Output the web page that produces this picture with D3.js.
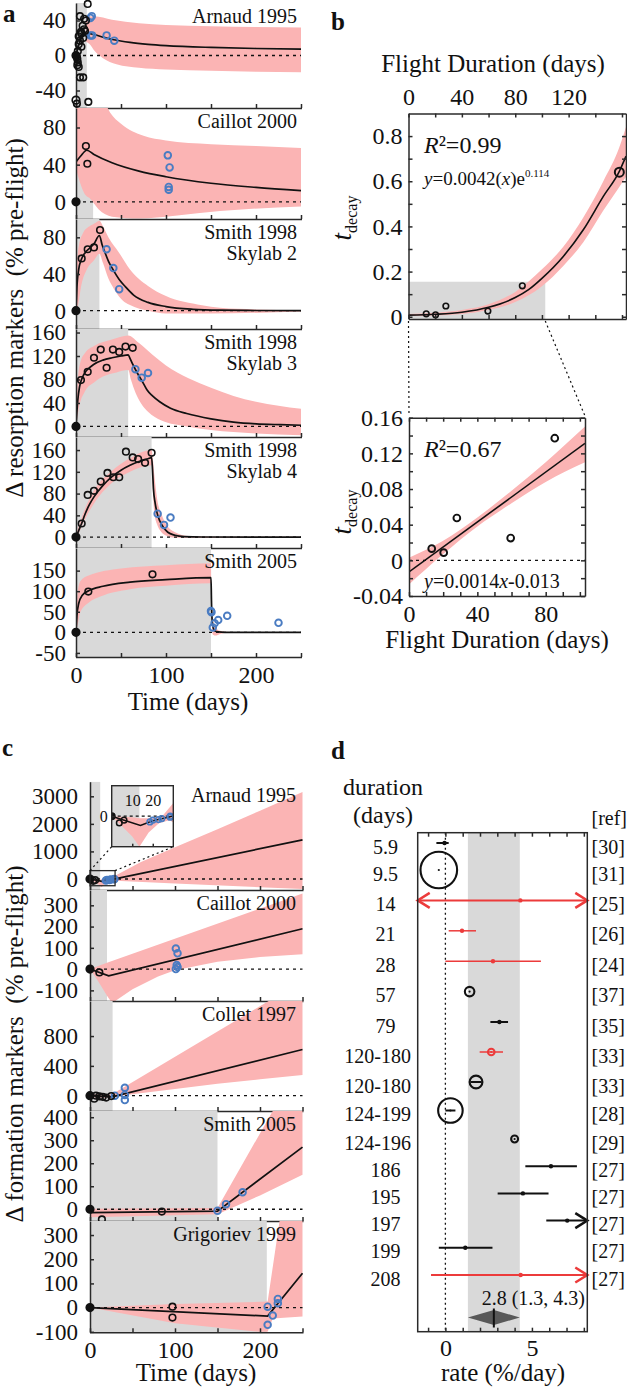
<!DOCTYPE html>
<html><head><meta charset="utf-8">
<script src="https://cdn.jsdelivr.net/npm/d3@7"></script>
<style>
html,body{margin:0;padding:0;background:#fff;}
svg{display:block;font-family:"Liberation Serif","Times New Roman",serif;}
</style></head><body>
<svg id="fig" width="627" height="1389"></svg>
<script>
// ================= DATA =================
// ---- Panel a : resorption markers, [day, % change] ----
const aTitles = [["Arnaud 1995"],["Caillot 2000"],["Smith 1998","Skylab 2"],["Smith 1998","Skylab 3"],["Smith 1998","Skylab 4"],["Smith 2005"]];
const aFlight = [12, 19, 26, 58, 84, 150];
const aYDomain = [[-60,60],[-18.5,101],[-20,100],[-18,166],[-20,184],[-60,205]];
const aYTicks = [[-40,0,40],[0,40,80],[0,40,80],[0,40,80,120,160],[0,40,80,120,160],[-50,0,50,100,150]];
const timeTicks = [0,50,100,150,200,250];

const a1Black = [[0,0],[13,59],[4.4,45],[9,42],[11,40],[7.4,34],[9,30],[10,28],[5.5,27],[6,25],[3,22],[8,20],[4.4,17],[3,13],[6,10],[2,5],[1,-2],[1.5,-4],[2,-8],[1.5,-11],[3,-13],[4.4,-25],[8,-25],[0,-51],[1,-55],[13.7,-53]];
const a1Blue = [[16,43],[17.5,45],[16,23],[18,23],[34,23],[42.5,17]];
const a1Fit = [[0,0],[3,12],[6,20],[9,24],[12,25.5],[20,24],[30,21],[42,18],[60,15],[80,12.8],[100,11.3],[150,9.2],[200,8],[250,7.3]];
const a1Hi = [[11,45],[20,45],[40,41],[70,37],[100,35],[150,33.5],[200,32.5],[250,32]];
const a1Lo = [[11,16],[16,12],[20,6],[30,-3],[45,-10],[70,-14],[100,-16],[150,-17.5],[200,-18.5],[250,-19]];

const a2Black = [[0,0],[11,60],[12.6,41]];
const a2Blue = [[102,50],[104,37],[103,16],[103,13]];
const a2Fit = [[0,43],[5,49],[12,55.5],[20,51],[40,42],[70,33],[100,27],[150,20],[200,15.5],[250,12]];
const a2Hi = [[0,125],[30,110],[38,96],[50,84],[75,71],[100,66],[150,62],[200,60],[250,58]];
const a2Lo = [[0,35],[10,8],[15,4],[25,-8],[40,-16],[70,-18],[110,-15],[160,-10],[250,-5]];

const a3Black = [[0,0],[6.3,57],[13,67],[20,69],[26.7,88]];
const a3Blue = [[34,67],[41.5,46.5],[48,23.4]];
const a3Fit = [[0,0],[1,25],[3,45],[6,56],[10,63],[15,68],[20,73],[26,82],[29,72],[32,64],[36,54],[41,45],[48,34],[55,26],[64,17],[80,9],[100,4.5],[130,1.5],[160,0.5],[200,0.2],[250,0]];
const a3Hi = [[0,0],[1,50],[3,70],[8,85],[15,92],[22,96],[26,98],[30,92],[36,80],[48,63],[60,45],[80,27],[100,16],[140,6],[180,2],[250,0.5]];
const a3Lo = [[0,0],[2,5],[6,28],[12,45],[20,55],[26,62],[30,52],[36,35],[42,24],[50,13],[65,4],[80,0],[100,-3],[150,-3],[250,-1]];

const a4Black = [[0,0],[5.5,79],[13,93],[20,117],[27.5,131],[34,100],[41,131],[48,127],[55,136],[63,134]];
const a4Blue = [[66,97.5],[73,83],[80,91]];
const a4Fit = [[0,0],[2,45],[4,68],[7,83],[10,92],[15,100],[20,106],[30,113],[40,117],[50,120],[58,122],[60,116],[63,106],[66,97],[70,86],[75,73],[79,62],[85,52],[93,42],[105,31],[123,22],[150,13],[175,7.5],[200,4.5],[227,3],[250,2]];
const a4Hi = [[0,0],[2,80],[5,110],[10,125],[20,137],[40,148],[58,155],[70,142],[85,122],[100,104],[125,82],[150,66],[175,52],[200,42],[250,30]];
const a4Lo = [[0,0],[3,30],[10,60],[20,75],[30,85],[45,92],[58,96],[61,80],[66,58],[72,40],[80,25],[95,10],[123,0],[150,-6],[200,-12],[250,-15]];

const a5Black = [[0,0],[6.3,25],[13,77.5],[20,85],[27.5,102],[35,118],[41.5,110],[48,110],[55.5,157],[63,146.5],[69,143.5],[76.7,136.5],[84,155]];
const a5Blue = [[90.7,43],[97.8,22.5],[105,36]];
const a5Fit = [[0,0],[3,12],[6,24],[10,42],[15,60],[20,74],[30,95],[40,111],[50,123],[60,132],[70,139],[80,144],[84,146],[85,125],[86,90],[88,62],[90,45],[93,30],[97,18],[102,9],[110,3.5],[120,1],[140,0.2],[250,0]];
const a5Hi = [[0,5],[10,52],[20,86],[40,122],[60,145],[84,160],[85,150],[87,115],[90,72],[95,42],[100,24],[110,9],[125,2],[150,0.5],[250,0.5]];
const a5Lo = [[0,-5],[10,33],[20,62],[40,100],[60,120],[84,132],[85,100],[87,45],[90,24],[95,9],[100,3],[110,-1],[250,-1]];

const a6Black = [[0,0],[13.7,99],[85,141]];
const a6Blue = [[150,52],[150.5,49],[152,12],[154,22],[158,30],[168,40],[225,23]];
const a6Fit = [[0,0],[1,40],[3,70],[7,90],[14,101],[30,112],[60,122],[100,128],[150,133],[150.5,80],[151,40],[152,15],[154,4],[158,1],[165,0],[250,0]];
const a6Hi = [[0,0],[2,100],[5,125],[14,138],[50,155],[100,163],[150,168],[150.5,100],[152,35],[155,12],[160,4],[170,1],[250,0.5]];
const a6Lo = [[0,0],[2,20],[5,50],[14,72],[27,87],[60,105],[100,113],[150,119],[150.5,40],[152,-5],[155,-8],[160,-4],[170,-1],[250,-0.5]];

// ---- Panel b : decay time vs flight duration ----
const bDuration = [13.3, 20.3, 28, 59.5, 85.3, 158];
const bTdecay = [0.0131, 0.0086, 0.0475, 0.025, 0.137, 0.64];
const bExpFit = [[0,0.007],[20,0.011],[40,0.02],[60,0.042],[80,0.085],[90,0.12],[100,0.17],[116,0.267],[131,0.385],[146,0.533],[158,0.644],[163,0.711]];
const bExpHi = [[0,0.012],[20,0.018],[40,0.03],[60,0.055],[80,0.11],[100,0.21],[116,0.31],[131,0.44],[146,0.6],[158,0.75],[163,0.84]];
const bExpLo = [[0,0.003],[20,0.006],[40,0.012],[60,0.03],[80,0.065],[100,0.135],[116,0.225],[131,0.33],[146,0.47],[158,0.575],[163,0.62]];
const bLinFit = [[0,-0.013],[103,0.1312]];
const bLinHi = [[0,0.003],[20,0.022],[40,0.048],[60,0.078],[80,0.11],[103,0.15]];
const bLinLo = [[0,-0.027],[20,0.007],[40,0.038],[60,0.064],[80,0.088],[103,0.11]];
const bZoomRange = [102.5, 0.155];

// ---- Panel c : formation markers ----
const cTitles = ["Arnaud 1995","Caillot 2000","Collet 1997","Smith 2005","Grigoriev 1999"];
const cFlight = [12, 20, 26.6, 150, 208];
const cYDomain = [[-400,3530],[-150,372],[-205,1270],[-51,427],[-102,358]];
const cYTicks = [[0,1000,2000,3000],[-100,0,100,200,300],[0,400,800],[0,100,200,300,400],[-100,0,100,200,300]];

const c1Black = [[0,0],[3.7,-66],[6,-39]];
const c1Blue = [[18.6,-56],[20,-39],[22.8,-33],[24.4,-23],[28.5,0],[28.5,-10]];
const c1Fit = [[0,0],[14,-90],[20,-45],[28,-8],[250,1420]];
const c1Hi = [[0,0],[5,-5],[10,-10],[13.5,-20],[20,-20],[25,10],[30,130],[60,620],[100,1150],[150,1800],[200,2480],[250,3160]];
const c1Lo = [[0,0],[5,-100],[10,-200],[13.5,-300],[18,-160],[23,-70],[28,-40],[30,-60],[100,-160],[250,-365]];
const c1InsetX = [0,30], c1InsetY = [-300,300], c1InsetFlight = 13.5;

const c2Black = [[0,0],[11,-15.5]];
const c2Blue = [[101,97],[103,74],[102,19],[101,0],[103,10]];
const c2Fit = [[0,0],[22,-32],[250,190]];
const c2Hi = [[0,0],[20,30],[250,355]];
const c2Lo = [[0,0],[10,-60],[20,-125],[26,-160],[50,-95],[80,-35],[100,-5],[150,35],[200,57],[250,70]];

const c3Black = [[0,0],[5,-40],[7,0],[11,-10],[15,-15],[19,-25],[25,-5]];
const c3Blue = [[29.3,0],[41,107],[41,10],[41,-58]];
const c3Fit = [[0,0],[26,-15],[250,620]];
const c3Hi = [[0,20],[26,20],[250,1540]];
const c3Lo = [[0,-20],[26,-30],[40,5],[100,90],[150,160],[200,220],[250,277]];

const c4Black = [[0,0],[14,-44],[84.5,-10]];
const c4Blue = [[150,-6],[160,22],[179.5,74]];
const c4Fit = [[0,-15],[150,-8],[250,270]];
const c4Hi = [[0,2],[150,6],[215,427],[250,650]];
const c4Lo = [[0,-35],[150,-22],[200,60],[250,150]];

const c5Black = [[0,0],[97,4],[97,-41]];
const c5Blue = [[209,4],[209,-71],[215,-33],[221,36],[221,18]];
const c5Fit = [[0,0],[209,-35],[250,142]];
const c5Hi = [[0,0],[100,15],[209,25],[223,358],[250,900]];
const c5Lo = [[0,0],[100,-65],[200,-100],[209,-100],[215,-45],[250,-37]];

// ---- Panel d : formation rate meta-analysis ----
const dDuration = ["5.9","9.5","14","21","28","57","79","120-180","120-180","124-199","124-196","186","195","197","199","208"];
const dRef = ["[30]","[31]","[25]","[26]","[24]","[37]","[35]","[33]","[33]","[28]","[29]","[27]","[27]","[27]","[27]","[27]"];
const dRate = [-0.05,-0.38,4.33,0.96,2.75,1.4,3.12,2.65,1.77,0.29,4.0,6.1,4.48,7.04,1.15,4.35];
const dLow  = [-0.52,-0.38,-9,0.19,0.0,1.4,2.6,1.98,1.45,0.0,4.0,4.62,3.02,5.83,-0.38,-0.83];
const dHigh = [0.19,-0.38,9,1.77,5.52,1.4,3.62,3.33,2.1,0.58,4.0,7.6,5.96,9,2.72,9];
const dGroup = [0,0,1,1,1,0,0,1,0,0,0,0,0,0,0,1];
const dWeight = [0,1,0,0,0,0.26,0,0.18,0.35,0.67,0.19,0,0,0,0,0];
const dPooled = [2.8, 1.3, 4.3];

// ================= DRAWING =================
const FONT = "'Liberation Serif','Times New Roman',serif";
const PINK = "#fbb4b4", GRAY = "#d9d9d9", BLUE = "#4a7cc2", RED = "#ec3b3b", INK = "#111", AX = "#2a2a2a";
const TICK = 23;
const svg = d3.select("#fig");
svg.append("rect").attr("width",627).attr("height",1389).attr("fill","#fff");

function txt(g, x, y, s, o = {}) {
  const t = g.append("text").attr("x", x).attr("y", y).text(s).attr("font-family", FONT)
    .attr("font-size", o.size || TICK).attr("text-anchor", o.anchor || "middle").attr("fill", INK);
  if (o.weight) t.attr("font-weight", o.weight);
  if (o.dy) t.attr("dy", o.dy);
  if (o.italic) t.attr("font-style", "italic");
  return t;
}
function styleAxis(sel, size) {
  sel.attr("font-family", FONT).attr("font-size", size || TICK);
  sel.selectAll("text").attr("fill", INK).attr("font-family", FONT);
  sel.selectAll("text").filter(function () { return this.textContent === ""; }).remove();
  sel.selectAll("path,line").attr("stroke", AX).attr("stroke-width", 1.5);
  return sel;
}
const lineGen = (x, y, c) => d3.line().x(d => x(d[0])).y(d => y(d[1])).curve(c || d3.curveMonotoneX);
function bandPath(x, y, hi, lo, c) {
  const ln = lineGen(x, y, c);
  return ln(hi) + ln(lo.slice().reverse()).replace(/^M/, "L") + "Z";
}
function drawPoints(g, x, y, data, color, r, sw) {
  g.selectAll(null).data(data).enter().append("circle")
    .attr("cx", d => x(d[0])).attr("cy", d => y(d[1])).attr("r", d => d[0] === 0 ? r + 0.5 : r)
    .attr("fill", d => d[0] === 0 && d[1] === 0 ? color : "none")
    .attr("stroke", color).attr("stroke-width", sw);
}
let clipN = 0;
function clipTo(x0, y0, w, h) {
  const id = "clp" + (clipN++);
  svg.append("clipPath").attr("id", id).append("rect").attr("x", x0).attr("y", y0).attr("width", w).attr("height", h);
  return svg.append("g").attr("clip-path", `url(#${id})`);
}

function seriesPanel(o) {
  const x = o.x, [x0, x1] = x.range();
  const y = d3.scaleLinear().domain(o.yDomain).range([o.bottom, o.top]);
  const g = clipTo(x0, o.top, x1 - x0 + 2, o.bottom - o.top);
  g.append("rect").attr("x", x(0)).attr("y", o.top).attr("width", x(o.flight) - x(0)).attr("height", o.bottom - o.top).attr("fill", GRAY);
  g.append("path").attr("d", bandPath(x, y, o.hi, o.lo, o.curve)).attr("fill", PINK);
  g.append("line").attr("x1", x0).attr("x2", x1).attr("y1", y(0)).attr("y2", y(0))
    .attr("stroke", INK).attr("stroke-width", 1.3).attr("stroke-dasharray", "3,4");
  g.append("path").attr("d", lineGen(x, y, o.curve)(o.fit)).attr("fill", "none").attr("stroke", INK).attr("stroke-width", 1.7);
  // axes
  const ay = svg.append("g").attr("transform", `translate(${x0},0)`)
    .call(d3.axisLeft(y).tickValues(o.yTicks).tickSize(-4).tickSizeOuter(0).tickPadding(o.gap).tickFormat(d => String(d)));
  styleAxis(ay);
  const ax = svg.append("g").attr("transform", `translate(0,${o.bottom})`)
    .call(d3.axisBottom(x).tickValues(timeTicks).tickSize(-4).tickSizeOuter(0).tickPadding(9)
      .tickFormat(d => o.labels && d % 100 === 0 ? String(d) : ""));
  styleAxis(ax, 24);
  ax.select(".domain").attr("d", `M${x0},0.5H${x1 + 1}`);
  // points
  const pg = svg.append("g");
  drawPoints(pg, x, y, o.blue, BLUE, 3.3, 1.9);
  drawPoints(pg, x, y, o.black, INK, 3.3, 1.6);
  // title
  o.title.forEach((s, i) => txt(svg, o.titleX, o.top + 20 + i * 21, s, { anchor: "end", size: 20 }));
  return y;
}

// ---------- Panel a ----------
const xA = d3.scaleLinear().domain([0, 250]).range([76, 301]);
const aTop = [3, 108, 219, 329, 437, 548, 657];
const aSeries = [
  [a1Black, a1Blue, a1Fit, a1Hi, a1Lo], [a2Black, a2Blue, a2Fit, a2Hi, a2Lo], [a3Black, a3Blue, a3Fit, a3Hi, a3Lo],
  [a4Black, a4Blue, a4Fit, a4Hi, a4Lo], [a5Black, a5Blue, a5Fit, a5Hi, a5Lo], [a6Black, a6Blue, a6Fit, a6Hi, a6Lo]];
aSeries.forEach((s, i) => seriesPanel({
  x: xA, top: aTop[i], bottom: aTop[i + 1], yDomain: aYDomain[i], yTicks: aYTicks[i], flight: aFlight[i],
  black: s[0], blue: s[1], fit: s[2], hi: s[3], lo: s[4], title: aTitles[i], titleX: 297, gap: 10, labels: i === 5
}));
txt(svg, 188, 710, "Time (days)", { size: 25 });
txt(svg, 0, 0, "Δ resorption markers  (% pre-flight)", { size: 25 })
  .attr("transform", "translate(23,318) rotate(-90)").style("white-space", "pre");
txt(svg, 3, 22, "a", { anchor: "start", size: 25, weight: "bold" });

// ---------- Panel c ----------
const xC = d3.scaleLinear().domain([0, 250]).range([90, 302.5]);
const cTop = [781.7, 890, 1001, 1111, 1221, 1332.3];
const cSeries = [[c1Black, c1Blue, c1Fit, c1Hi, c1Lo], [c2Black, c2Blue, c2Fit, c2Hi, c2Lo], [c3Black, c3Blue, c3Fit, c3Hi, c3Lo],
  [c4Black, c4Blue, c4Fit, c4Hi, c4Lo], [c5Black, c5Blue, c5Fit, c5Hi, c5Lo]];
const cY = cSeries.map((s, i) => seriesPanel({
  x: xC, top: cTop[i], bottom: cTop[i + 1], yDomain: cYDomain[i], yTicks: cYTicks[i], flight: cFlight[i],
  black: s[0], blue: s[1], fit: s[2], hi: s[3], lo: s[4], title: [cTitles[i]], titleX: 296, gap: 12, labels: i === 4,
  curve: d3.curveLinear
}));
txt(svg, 196, 1381, "Time (days)", { size: 25 });
txt(svg, 0, 0, "Δ formation markers  (% pre-flight)", { size: 25 })
  .attr("transform", "translate(23,1044) rotate(-90)").style("white-space", "pre");
txt(svg, 2, 756, "c", { anchor: "start", size: 25, weight: "bold" });

// inset for Arnaud 1995 (panel c)
{
  const yMain = cY[0];
  const xIn = d3.scaleLinear().domain(c1InsetX).range([111.7, 173.3]);
  const yIn = d3.scaleLinear().domain(c1InsetY).range([846.7, 785.7]);
  const rx0 = xC(c1InsetX[0]), rx1 = xC(29.5), ry0 = yMain(303), ry1 = yMain(-245);
  svg.append("rect").attr("x", rx0).attr("y", ry0).attr("width", rx1 - rx0).attr("height", ry1 - ry0)
    .attr("fill", "none").attr("stroke", AX).attr("stroke-width", 1.3);
  const dl = svg.append("g").attr("stroke", INK).attr("stroke-width", 1.2).attr("stroke-dasharray", "2,3");
  dl.append("line").attr("x1", rx0).attr("y1", ry0).attr("x2", xIn.range()[0]).attr("y2", yIn.range()[0]);
  dl.append("line").attr("x1", rx1).attr("y1", ry0).attr("x2", xIn.range()[1]).attr("y2", yIn.range()[0]);
  svg.append("rect").attr("x", 111.7).attr("y", 785.7).attr("width", 61.6).attr("height", 61).attr("fill", "#fff");
  const g = clipTo(111.7, 785.7, 61.6, 61);
  g.append("rect").attr("x", xIn(0)).attr("y", 785.7).attr("width", xIn(c1InsetFlight) - xIn(0)).attr("height", 61).attr("fill", GRAY);
  g.append("path").attr("d", bandPath(xIn, yIn, c1Hi, c1Lo, d3.curveLinear)).attr("fill", PINK);
  g.append("line").attr("x1", 111.7).attr("x2", 173.3).attr("y1", yIn(0)).attr("y2", yIn(0))
    .attr("stroke", INK).attr("stroke-width", 1.2).attr("stroke-dasharray", "3,3");
  g.append("path").attr("d", lineGen(xIn, yIn, d3.curveLinear)(c1Fit)).attr("fill", "none").attr("stroke", INK).attr("stroke-width", 1.5);
  drawPoints(g, xIn, yIn, c1Blue, BLUE, 2.8, 1.6);
  drawPoints(g, xIn, yIn, c1Black, INK, 2.8, 1.5);
  const top = svg.append("g").attr("transform", "translate(0,785.7)")
    .call(d3.axisBottom(xIn).tickValues([10, 20]).tickSize(0).tickPadding(9));
  styleAxis(top, 16); top.select(".domain").remove();
  const bot = svg.append("g").attr("transform", "translate(0,846.7)")
    .call(d3.axisBottom(xIn).tickValues([10, 20]).tickSize(-3).tickFormat(""));
  styleAxis(bot); bot.select(".domain").remove();
  const lft = svg.append("g").attr("transform", "translate(111.7,0)")
    .call(d3.axisLeft(yIn).tickValues([0]).tickSize(-3).tickPadding(4));
  styleAxis(lft, 16); lft.select(".domain").remove();
  svg.append("rect").attr("x", 111.7).attr("y", 785.7).attr("width", 61.6).attr("height", 61)
    .attr("fill", "none").attr("stroke", AX).attr("stroke-width", 1.4);
}

// ---------- Panel b ----------
function boxAxes(x, y, xt, yt, fmtX, fmtY, topLabels) {
  const [x0, x1] = x.range(), [y0, y1] = y.range();
  const mk = (axis, tr) => styleAxis(svg.append("g").attr("transform", tr).call(axis), 24);
  mk(d3.axisLeft(y).tickValues(yt).tickSize(-4).tickSizeOuter(0).tickPadding(6).tickFormat(fmtY), `translate(${x0},0)`);
  mk(d3.axisRight(y).tickValues(yt).tickSize(-4).tickSizeOuter(0).tickFormat(""), `translate(${x1},0)`);
  mk(d3.axisBottom(x).tickValues(xt).tickSize(-4).tickSizeOuter(0).tickPadding(9).tickFormat(topLabels ? "" : fmtX), `translate(0,${y0})`);
  mk(d3.axisTop(x).tickValues(xt).tickSize(-4).tickSizeOuter(0).tickPadding(9).tickFormat(topLabels ? fmtX : ""), `translate(0,${y1})`);
}
const fmt2 = d => String(+(+d).toFixed(2));
// upper b
{
  const x = d3.scaleLinear().domain([0, 163]).range([408.5, 626]);
  const y = d3.scaleLinear().domain([-0.01, 0.9]).range([319, 113.5]);
  const g = clipTo(408.5, 113.5, 217.5, 205.5);
  g.append("rect").attr("x", x(0)).attr("y", y(bZoomRange[1])).attr("width", x(bZoomRange[0]) - x(0))
    .attr("height", y(-0.01) - y(bZoomRange[1])).attr("fill", GRAY);
  g.append("path").attr("d", bandPath(x, y, bExpHi, bExpLo)).attr("fill", PINK);
  g.append("path").attr("d", lineGen(x, y)(bExpFit)).attr("fill", "none").attr("stroke", INK).attr("stroke-width", 1.6);
  const pts = bDuration.map((d, i) => [d, bTdecay[i]]);
  svg.selectAll(null).data(pts).enter().append("circle")
    .attr("cx", d => x(d[0])).attr("cy", d => y(d[1])).attr("r", d => d[0] > 150 ? 4.5 : 2.8)
    .attr("fill", "none").attr("stroke", INK).attr("stroke-width", d => d[0] > 150 ? 2 : 1.6);
  boxAxes(x, y, d3.range(0, 161, 20), d3.range(0, 0.81, 0.1),
    d => d % 40 === 0 && d <= 120 ? String(d) : "", d => Math.round(d * 10) % 2 === 0 ? fmt2(d) : "", true);
  txt(svg, 493, 72, "Flight Duration (days)", { size: 25 });
  const r = txt(svg, 424, 153, "", { anchor: "start", size: 24 });
  r.append("tspan").attr("font-style", "italic").text("R");
  r.append("tspan").text("²=0.99");
  const e = txt(svg, 424, 185, "", { anchor: "start", size: 19 });
  e.append("tspan").attr("font-style", "italic").text("y");
  e.append("tspan").text("=0.0042(");
  e.append("tspan").attr("font-style", "italic").text("x");
  e.append("tspan").text(")e");
  e.append("tspan").attr("font-size", 11).attr("dy", -8).text("0.114");
  const t = txt(svg, 0, 0, "", { size: 27 }).attr("transform", "translate(351,218) rotate(-90)");
  t.append("tspan").attr("font-style", "italic").text("t");
  t.append("tspan").attr("font-size", 16).attr("dy", 6).text("decay");
  txt(svg, 331, 30, "b", { anchor: "start", size: 25, weight: "bold" });
  // connectors to lower b
  const dl = svg.append("g").attr("stroke", INK).attr("stroke-width", 1.2).attr("stroke-dasharray", "2,3");
  dl.append("line").attr("x1", x(0)).attr("y1", 321).attr("x2", 409).attr("y2", 416);
  dl.append("line").attr("x1", x(bZoomRange[0])).attr("y1", 321).attr("x2", 585).attr("y2", 416);
}
// lower b
{
  const x = d3.scaleLinear().domain([0, 103]).range([409, 585]);
  const y = d3.scaleLinear().domain([-0.04, 0.16]).range([596, 417.7]);
  const g = clipTo(409, 417.7, 176, 178.3);
  g.append("path").attr("d", bandPath(x, y, bLinHi, bLinLo)).attr("fill", PINK);
  g.append("line").attr("x1", 409).attr("x2", 585).attr("y1", y(0)).attr("y2", y(0))
    .attr("stroke", INK).attr("stroke-width", 1.3).attr("stroke-dasharray", "3,4");
  g.append("path").attr("d", lineGen(x, y)(bLinFit)).attr("fill", "none").attr("stroke", INK).attr("stroke-width", 1.6);
  const pts = bDuration.map((d, i) => [d, bTdecay[i]]).filter(d => d[0] <= 103);
  g.selectAll(null).data(pts).enter().append("circle")
    .attr("cx", d => x(d[0])).attr("cy", d => y(d[1])).attr("r", 3.4)
    .attr("fill", "none").attr("stroke", INK).attr("stroke-width", 1.9);
  boxAxes(x, y, d3.range(0, 101, 10), d3.range(-0.04, 0.161, 0.02),
    d => d % 40 === 0 ? String(d) : "", d => Math.round(d / 0.02) % 2 === 0 ? fmt2(d) : "", false);
  txt(svg, 497, 648, "Flight Duration (days)", { size: 25 });
  const r = txt(svg, 424, 457, "", { anchor: "start", size: 24 });
  r.append("tspan").attr("font-style", "italic").text("R");
  r.append("tspan").text("²=0.67");
  const e = txt(svg, 424, 588, "", { anchor: "start", size: 20 });
  e.append("tspan").attr("font-style", "italic").text("y");
  e.append("tspan").text("=0.0014");
  e.append("tspan").attr("font-style", "italic").text("x");
  e.append("tspan").text("-0.013");
  const t = txt(svg, 0, 0, "", { size: 27 }).attr("transform", "translate(351,512) rotate(-90)");
  t.append("tspan").attr("font-style", "italic").text("t");
  t.append("tspan").attr("font-size", 16).attr("dy", 6).text("decay");
}

// ---------- Panel d ----------
{
  const x = d3.scaleLinear().domain([-1.6, 8.2]).range([417.7, 587.3]);
  const [x0, x1] = x.range(), top = 832.7, bot = 1331.7;
  const y = d3.scaleLinear().domain([0, 1, 6, 8, 10, 15]).range([843, 870, 1022, 1082, 1139, 1275]);
  const col = d3.scaleOrdinal().domain([0, 1]).range([INK, RED]);
  const rS = d3.scaleLinear().domain([0, 1]).range([0, 18.3]);
  svg.append("rect").attr("x", x(dPooled[1])).attr("y", top).attr("width", x(dPooled[2]) - x(dPooled[1])).attr("height", bot - top).attr("fill", GRAY);
  svg.append("line").attr("x1", x(0)).attr("x2", x(0)).attr("y1", top).attr("y2", bot)
    .attr("stroke", INK).attr("stroke-width", 1.3).attr("stroke-dasharray", "2,3");
  const [dm, dM] = x.domain();
  dDuration.forEach((lab, i) => {
    const yy = y(i), c = col(dGroup[i]);
    const lo = Math.max(dLow[i], dm), hi = Math.min(dHigh[i], dM);
    const sw = dGroup[i] === 1 && (dHigh[i] - dLow[i]) < 7 ? 1.5 : 2;
    if (hi > lo) svg.append("line").attr("x1", x(lo)).attr("x2", x(hi)).attr("y1", yy).attr("y2", yy).attr("stroke", c).attr("stroke-width", sw);
    const arrow = (xe, dir) => svg.append("path")
      .attr("d", `M${xe - dir * 12},${yy - 7.5}L${xe},${yy}L${xe - dir * 12},${yy + 7.5}`)
      .attr("fill", "none").attr("stroke", c).attr("stroke-width", 2.5);
    if (dLow[i] < dm) arrow(x(dm), -1);
    if (dHigh[i] > dM) arrow(x(dM), 1);
    if (dWeight[i] > 0) {
      svg.append("circle").attr("cx", x(dRate[i])).attr("cy", yy).attr("r", rS(dWeight[i]))
        .attr("fill", "none").attr("stroke", c).attr("stroke-width", 2.1);
      svg.append("circle").attr("cx", x(dRate[i])).attr("cy", yy).attr("r", 1.1).attr("fill", c);
    } else {
      svg.append("circle").attr("cx", x(dRate[i])).attr("cy", yy).attr("r", 2.2).attr("fill", c);
    }
    const long = lab.includes("-");
    txt(svg, long ? 411 : 385.5, yy + 3.5, lab, { anchor: long ? "end" : "middle", size: 20, dy: "0.35em" });
    txt(svg, 591.5, yy + 3.5, dRef[i], { anchor: "start", size: 20, dy: "0.35em" });
  });
  // pooled estimate
  const yc = 1317.5;
  svg.append("path").attr("d", `M${x(dPooled[1])},${yc}L${x(dPooled[0])},${yc - 7.5}L${x(dPooled[2])},${yc}L${x(dPooled[0])},${yc + 7.5}Z`)
    .attr("fill", "#585858");
  svg.append("line").attr("x1", x(dPooled[0])).attr("x2", x(dPooled[0])).attr("y1", yc - 9).attr("y2", yc + 10)
    .attr("stroke", INK).attr("stroke-width", 2);
  txt(svg, 585, 1305, `${dPooled[0]} (${dPooled[1]}, ${dPooled[2]})`, { anchor: "end", size: 20 });
  // frame & axes
  const B = styleAxis(svg.append("g").attr("transform", `translate(0,${bot})`)
    .call(d3.axisBottom(x).tickValues(d3.range(-1, 9)).tickSize(-4).tickSizeOuter(0).tickPadding(7)
      .tickFormat(d => d === 0 || d === 5 ? String(d) : "")), 24);
  B.select(".domain").remove();
  const T = styleAxis(svg.append("g").attr("transform", `translate(0,${top})`)
    .call(d3.axisTop(x).tickValues(d3.range(-1, 9)).tickSize(-4).tickSizeOuter(0).tickFormat("")));
  T.select(".domain").remove();
  svg.append("rect").attr("x", x0).attr("y", top).attr("width", x1 - x0).attr("height", bot - top)
    .attr("fill", "none").attr("stroke", AX).attr("stroke-width", 1.5);
  txt(svg, 503, 1381, "rate (%/day)", { size: 25 });
  txt(svg, 383, 795, "duration", { size: 24 });
  txt(svg, 383, 823, "(days)", { size: 24 });
  txt(svg, 591.5, 825, "[ref]", { anchor: "start", size: 20 });
  txt(svg, 331, 759, "d", { anchor: "start", size: 25, weight: "bold" });
}
</script>
</body></html>
